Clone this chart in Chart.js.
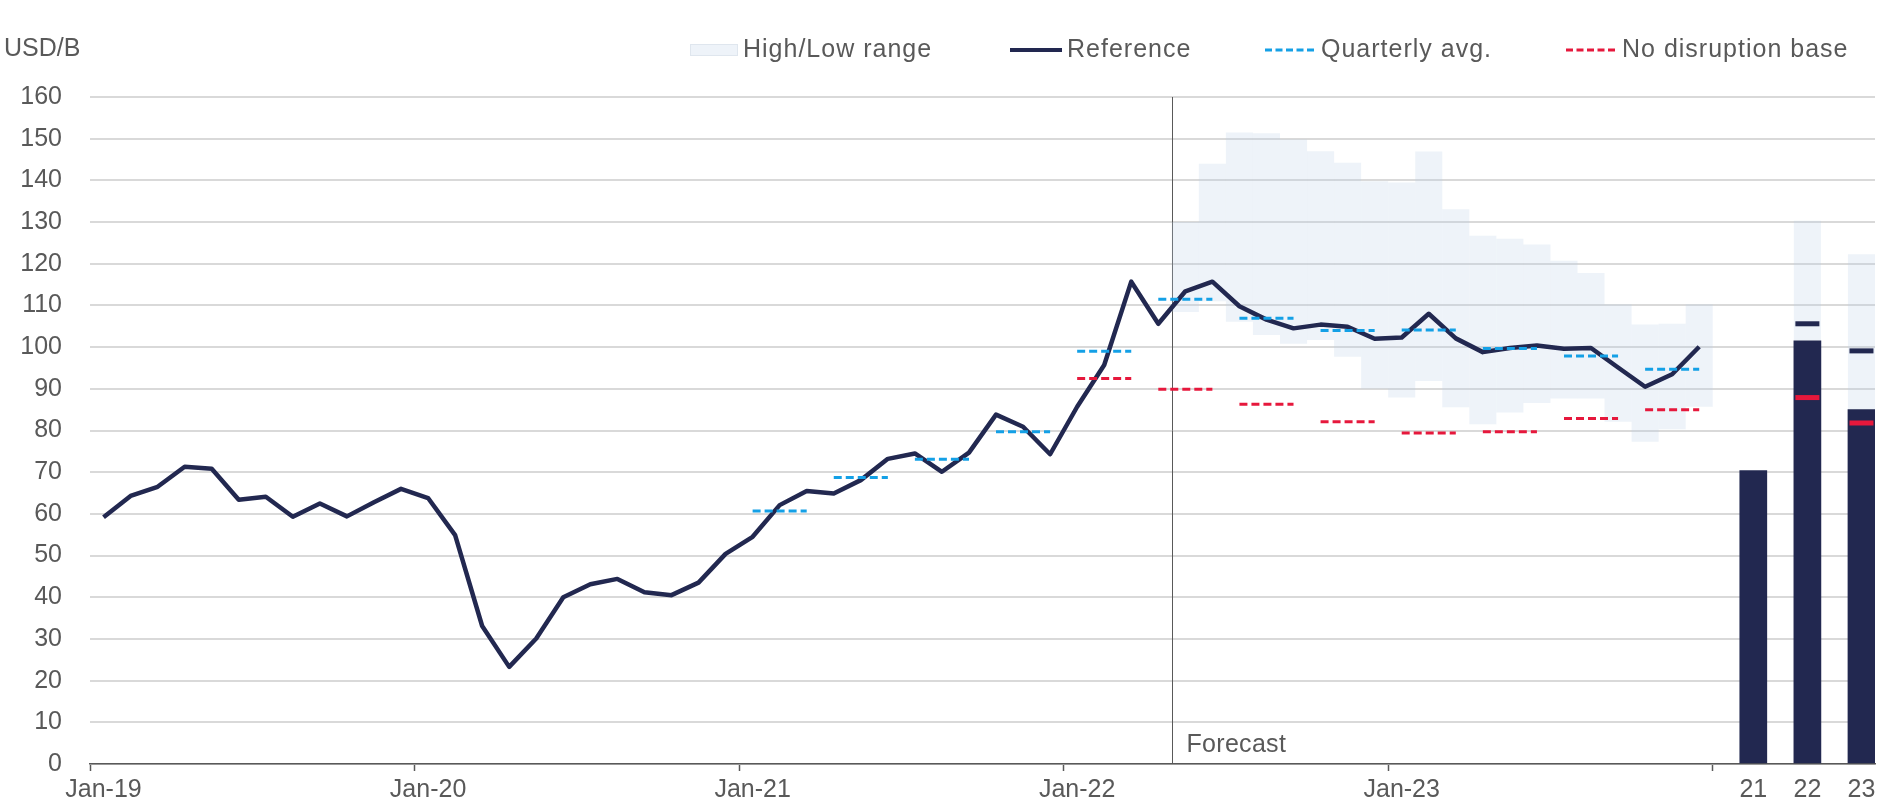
<!DOCTYPE html>
<html>
<head>
<meta charset="utf-8">
<script src="https://cdn.jsdelivr.net/npm/chart.js"></script>
<style>
  html, body { margin: 0; padding: 0; background: #fff; }
</style>
</head>
<body>
<canvas id="myChart" width="1886" height="805"></canvas>
<script>
// ---- categories / tick labels ----
const years = ['19', '20', '21', '22', '23'];
const monthNames = ['Jan', 'Feb', 'Mar', 'Apr', 'May', 'Jun', 'Jul', 'Aug', 'Sep', 'Oct', 'Nov', 'Dec'];
const monthLabels = [];
years.forEach(y => monthNames.forEach(m => monthLabels.push(m + '-' + y)));
const annualLabels = ['21', '22', '23'];
const forecastStart = 'May-22';

// ---- series ----
const reference = [
  59.2, 64.3, 66.5, 71.3, 70.8, 63.4, 64.1, 59.3, 62.5, 59.4, 62.8, 66.0,
  63.8, 54.9, 33.1, 23.3, 30.1, 40.0, 43.1, 44.4, 41.2, 40.5, 43.5, 50.4,
  54.5, 62.1, 65.5, 64.9, 68.1, 73.2, 74.5, 70.1, 74.7, 83.8, 80.9, 74.3,
  85.7, 95.7, 115.7, 105.6, 113.4, 115.7, 109.8, 106.6, 104.5, 105.4, 104.9, 102.0,
  102.3, 108.0, 102.1, 98.8, 99.8, 100.4, 99.6, 99.8, 95.1, 90.5, 93.5, 100.1
];
// High/Low range, May-22 .. Dec-23
const rangeLow = [108.4, 111.0, 106.1, 102.9, 100.8, 101.7, 97.7, 90.1, 87.9, 91.9,
                  85.6, 81.5, 84.3, 86.6, 87.7, 87.7, 82.1, 77.3, 80.3, 85.7];
const rangeHigh = [130.0, 144.0, 151.5, 151.3, 149.8, 147.0, 144.2, 139.8, 139.5, 146.9,
                   133.1, 126.7, 126.0, 124.6, 120.7, 117.8, 110.3, 105.4, 105.6, 110.3];
// quarterly averages from Q1-21, no-disruption base from Q1-22
const quarterlyStart = 'Jan-21';
const quarterlyAvg = [60.7, 68.7, 73.1, 79.7, 99.0, 111.5, 106.9, 104.0, 104.1, 99.7, 97.9, 94.7];
const baseStart = 'Jan-22';
const noDisruptionBase = [92.5, 89.9, 86.3, 82.1, 79.4, 79.7, 82.9, 85.0];
// annual columns
const annualActual = [70.4, 101.5, 85.0];
const annualHigh = [null, 130.3, 122.3];
const annualRef = [null, 105.6, 99.1];
const annualBase = [null, 87.9, 81.8];

// ---- styles ----
const navy = '#222850';
const blue = '#14a0e6';
const red = '#e6183c';
const rangeFill = 'rgba(187,207,231,0.25)';
const textColor = '#595959';
const fontFamily = '"Liberation Sans", Arial, Helvetica, sans-serif';
Chart.defaults.font.family = fontFamily;

// ---- build library data ----
const allLabels = monthLabels.slice();
annualLabels.forEach(a => { allLabels.push(''); allLabels.push(a); });
const empty = () => allLabels.map(() => null);

const rangeData = empty();
const r0 = allLabels.indexOf(forecastStart);
rangeLow.forEach((lo, k) => { rangeData[r0 + k] = [lo, rangeHigh[k]]; });
annualLabels.forEach((a, k) => {
  if (annualHigh[k] != null) rangeData[allLabels.indexOf(a)] = [annualActual[k], annualHigh[k]];
});

const annualBars = empty();
const annualRefPts = empty();
const annualBasePts = empty();
annualLabels.forEach((a, k) => {
  const i = allLabels.indexOf(a);
  annualBars[i] = annualActual[k];
  annualRefPts[i] = annualRef[k];
  annualBasePts[i] = annualBase[k];
});

const refData = empty();
reference.forEach((v, i) => { refData[i] = v; });

function quarterSeries(startLabel, values) {
  const d = empty();
  const s = allLabels.indexOf(startLabel);
  values.forEach((v, q) => { for (let m = 0; m < 3; m++) d[s + q * 3 + m] = v; });
  return d;
}
const sameQuarter = (c, color) =>
  Math.floor(c.p0DataIndex / 3) === Math.floor(c.p1DataIndex / 3) ? color : 'rgba(0,0,0,0)';

// ---- legend / labels drawn on the canvas ----
const legendItems = [
  { text: 'High/Low range', kind: 'box', x: 690, w: 48 },
  { text: 'Reference', kind: 'line', x: 1010, w: 52, color: navy, width: 4, dash: [] },
  { text: 'Quarterly avg.', kind: 'line', x: 1265, w: 51, color: blue, width: 3, dash: [7, 3.5] },
  { text: 'No disruption base', kind: 'line', x: 1566, w: 51, color: red, width: 3, dash: [7, 3.5] }
];

const decorations = {
  id: 'decorations',
  beforeDatasetsDraw(chart) {
    const { ctx, chartArea, scales: { x } } = chart;
    const i = allLabels.indexOf(forecastStart);
    const fx = Math.round((x.getPixelForValue(i - 1) + x.getPixelForValue(i)) / 2) + 0.5;
    ctx.save();
    ctx.strokeStyle = '#595959';
    ctx.lineWidth = 1;
    ctx.beginPath();
    ctx.moveTo(fx, chartArea.top);
    ctx.lineTo(fx, chartArea.bottom);
    ctx.stroke();
    ctx.fillStyle = textColor;
    ctx.font = '25px ' + fontFamily;
    ctx.letterSpacing = '0.3px';
    ctx.textBaseline = 'alphabetic';
    ctx.fillText('Forecast', fx + 14, chartArea.bottom - 12);
    ctx.restore();
  },
  afterDraw(chart) {
    const { ctx } = chart;
    ctx.save();
    ctx.fillStyle = textColor;
    ctx.font = '25px ' + fontFamily;
    ctx.textBaseline = 'alphabetic';
    ctx.fillText('USD/B', 4, 56);
    ctx.letterSpacing = '1px';
    const cy = 50;
    legendItems.forEach(it => {
      if (it.kind === 'box') {
        ctx.fillStyle = '#eef3f9';
        ctx.fillRect(it.x, cy - 6, it.w, 12);
        ctx.strokeStyle = '#dfe6ee';
        ctx.lineWidth = 1;
        ctx.strokeRect(it.x + 0.5, cy - 5.5, it.w - 1, 11);
      } else {
        ctx.strokeStyle = it.color;
        ctx.lineWidth = it.width;
        ctx.setLineDash(it.dash);
        ctx.beginPath();
        ctx.moveTo(it.x, cy);
        ctx.lineTo(it.x + it.w, cy);
        ctx.stroke();
        ctx.setLineDash([]);
      }
      ctx.fillStyle = textColor;
      ctx.fillText(it.text, it.x + it.w + 5, 57);
    });
    ctx.restore();
  }
};

new Chart(document.getElementById('myChart'), {
  type: 'bar',
  data: {
    labels: allLabels,
    datasets: [
      {
        label: 'High/Low range', data: rangeData, backgroundColor: rangeFill,
        borderWidth: 0, inflateAmount: 0, grouped: false, order: 6,
        categoryPercentage: 1, barPercentage: 1
      },
      {
        label: 'Annual', data: annualBars, backgroundColor: navy,
        borderWidth: 0, grouped: false, order: 5,
        categoryPercentage: 1, barPercentage: 1
      },
      {
        type: 'line', label: 'Reference', data: refData, borderColor: navy,
        borderWidth: 4.5, pointRadius: 0, tension: 0, borderJoinStyle: 'round', order: 2
      },
      {
        type: 'line', label: 'Quarterly avg.', data: quarterSeries(quarterlyStart, quarterlyAvg),
        borderColor: blue, borderWidth: 3, borderDash: [8, 4], pointRadius: 0, order: 1,
        segment: { borderColor: c => sameQuarter(c, blue) }
      },
      {
        type: 'line', label: 'No disruption base', data: quarterSeries(baseStart, noDisruptionBase),
        borderColor: red, borderWidth: 3, borderDash: [8, 4], pointRadius: 0, order: 1,
        segment: { borderColor: c => sameQuarter(c, red) }
      },
      {
        type: 'line', label: 'Annual reference', data: annualRefPts, showLine: false,
        pointStyle: 'line', pointRadius: 12, pointBorderWidth: 5,
        pointBorderColor: navy, borderColor: navy, order: 0
      },
      {
        type: 'line', label: 'Annual base', data: annualBasePts, showLine: false,
        pointStyle: 'line', pointRadius: 12, pointBorderWidth: 5,
        pointBorderColor: red, borderColor: red, order: 0
      }
    ]
  },
  options: {
    responsive: false,
    animation: false,
    events: [],
    layout: { autoPadding: false, padding: { left: 0, right: 11, top: 97, bottom: 0 } },
    plugins: { legend: { display: false }, tooltip: { enabled: false } },
    scales: {
      x: {
        type: 'category',
        offset: true,
        grid: {
          offset: true, drawOnChartArea: false, drawTicks: true, tickLength: 7, tickWidth: 1.5,
          tickColor: c => {
            const l = allLabels[c.index];
            const show = c.index === monthLabels.length || (c.index < monthLabels.length && l.startsWith('Jan-'));
            return show ? '#595959' : 'rgba(0,0,0,0)';
          }
        },
        border: { display: true, color: '#595959', width: 1.5 },
        ticks: {
          autoSkip: false, maxRotation: 0, minRotation: 0, padding: 4,
          color: textColor, font: { size: 25 },
          callback: (v, i) => {
            const l = allLabels[i];
            return (l.startsWith('Jan-') || annualLabels.includes(l)) ? l : '';
          }
        },
        afterFit: s => { s.height = 41; s.paddingLeft = 0; s.paddingRight = 0; }
      },
      y: {
        min: 0, max: 160,
        ticks: { stepSize: 10, color: textColor, font: { size: 25 }, padding: 28 },
        grid: { color: '#d9d9d9', lineWidth: 2, drawTicks: false },
        border: { display: false },
        afterFit: s => { s.width = 90; s.paddingTop = 0; s.paddingBottom = 0; }
      }
    }
  },
  plugins: [decorations]
});
</script>
</body>
</html>
